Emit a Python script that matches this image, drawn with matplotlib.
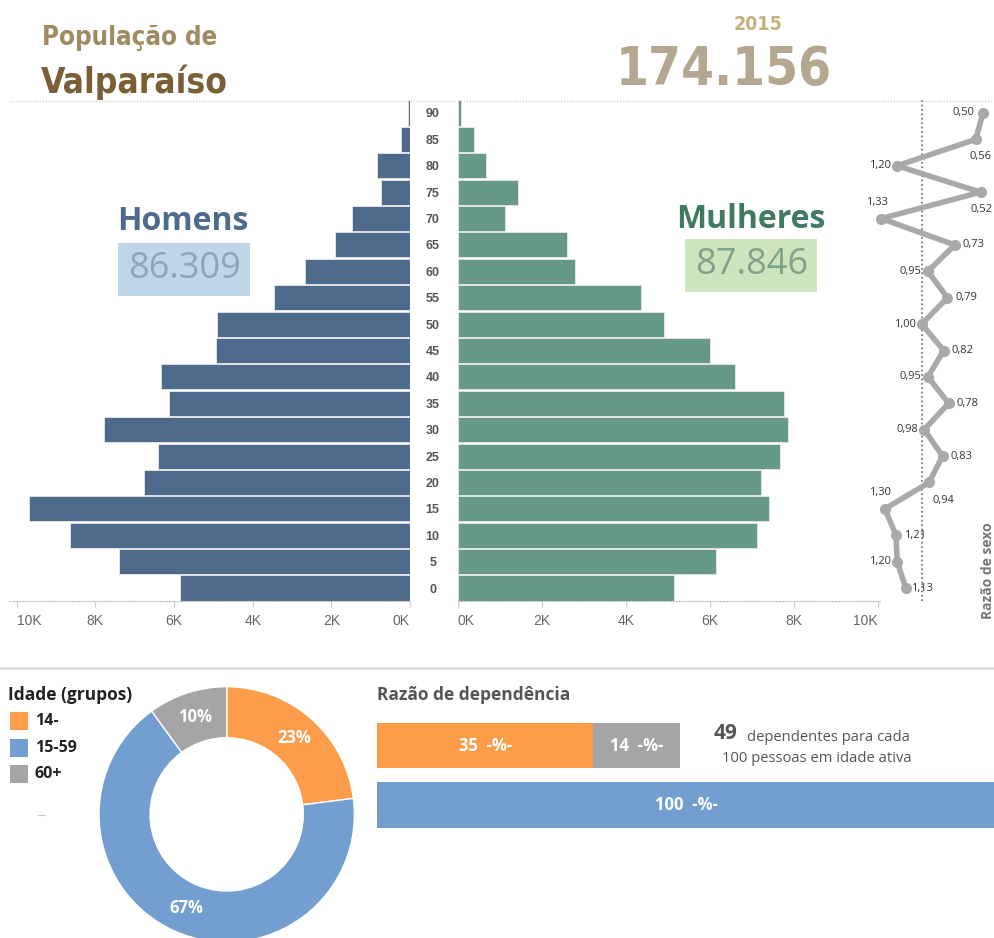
import matplotlib
matplotlib.use('Agg')
import matplotlib.pyplot as plt
from matplotlib.patches import Rectangle
from matplotlib.lines import Line2D

# idade (inicio do grupo), de baixo para cima
ages = [0, 5, 10, 15, 20, 25, 30, 35, 40, 45, 50, 55, 60, 65, 70, 75, 80, 85, 90]
men = [5855, 7405, 8645, 9690, 6770, 6395, 7780, 6125, 6330, 4945,
       4910, 3470, 2665, 1915, 1485, 745, 850, 240, 40]
women = [5157, 6158, 7136, 7422, 7231, 7667, 7858, 7763, 6603, 5998,
         4902, 4370, 2797, 2606, 1128, 1445, 682, 396, 80]
sex_ratio = [1.13, 1.20, 1.21, 1.30, 0.94, 0.83, 0.98, 0.78, 0.95, 0.82,
             1.00, 0.79, 0.95, 0.73, 1.33, 0.52, 1.20, 0.56, 0.50]

total_men = '86.309'
total_women = '87.846'
total_pop = '174.156'
year = '2015'

age_groups = ['14-', '15-59', '60+']
age_group_pct = [23, 67, 10]

dep_young = 35
dep_old = 14
dep_active = 100
dep_total = 49

tick_vals = [0, 2000, 4000, 6000, 8000, 10000]
tick_labels = ['0K', '2K', '4K', '6K', '8K', '10K']

C_MEN = '#4e6a8c'
C_WOMEN = '#669a86'
C_ORANGE = '#fd9d4b'
C_BLUE = '#729fcf'
C_GRAY = '#a5a5a5'

BODY = ['Open Sans', 'DejaVu Sans']
plt.rcParams['font.family'] = BODY
COND = dict(family='DejaVu Sans', fontstretch='condensed', fontweight='bold')

W, H = 995, 938
fig = plt.figure(figsize=(W / 100, H / 100), dpi=100)


def px_axes(x0, y0, x1, y1):
    return fig.add_axes([x0 / W, 1 - y1 / H, (x1 - x0) / W, (y1 - y0) / H])


def ftext(x, y, s, **kw):
    return fig.text(x / W, 1 - y / H, s, **kw)


# ---- titulo
ftext(42, 38, 'População de', fontsize=18.5, color='#a08a62', va='center', **COND)
ftext(41, 82, 'Valparaíso', fontsize=25.3, color='#7a5e36', va='center', **COND)
ftext(758, 24, year, fontsize=14, color='#c4b27c', ha='center', va='center', **COND)
ftext(724, 70, total_pop, fontsize=38, color='#b4a68f', ha='center', va='center',
      **COND)

fig.add_artist(Line2D([10 / W, 1], [1 - 101 / H] * 2, color='#c8c8c8',
                      lw=0.8, ls=':', transform=fig.transFigure))

# ---- piramide
y = list(range(len(ages)))
ylim = (-0.5, len(ages) - 0.5)

ax_m = px_axes(10, 99.8, 410, 601.2)
ax_m.barh(y, men, height=0.95, color=C_MEN, edgecolor='#e8e8e8', linewidth=0.6)
ax_m.set_xlim(10170, 0)

ax_w = px_axes(457.7, 99.8, 880, 601.2)
ax_w.barh(y, women, height=0.95, color=C_WOMEN, edgecolor='#e8e8e8', linewidth=0.6)
ax_w.set_xlim(0, 10055)

for ax in (ax_m, ax_w):
    ax.set_ylim(*ylim)
    for s in ('top', 'left', 'right'):
        ax.spines[s].set_visible(False)
    ax.spines['bottom'].set_linestyle(':')
    ax.spines['bottom'].set_color('#bbbbbb')
    ax.set_xticks(tick_vals)
    ax.set_xticklabels(tick_labels)
    ax.tick_params(axis='x', length=4, color='#cccccc', labelsize=10,
                   labelcolor='#666666', pad=5)
    for lab in ax.get_xticklabels():
        lab.set_family(['Liberation Sans', 'DejaVu Sans'])

ax_m.set_yticks([])
ax_m.get_xticklabels()[0].set_ha('right')
ax_m.get_xticklabels()[-1].set_ha('left')
ax_w.get_xticklabels()[0].set_ha('left')
ax_w.get_xticklabels()[-1].set_ha('right')

ax_w.set_yticks(y)
ax_w.set_yticklabels([str(a) for a in ages])
ax_w.tick_params(axis='y', length=0, pad=18, labelsize=9, labelcolor='#555555')
for lab in ax_w.get_yticklabels():
    lab.set_ha('center')
    lab.set_fontweight('bold')
    lab.set_family(['Liberation Sans', 'DejaVu Sans'])

# Homens / Mulheres
ftext(183, 222, 'Homens', fontsize=23, fontweight='bold', color=C_MEN,
      ha='center', va='center')
fig.add_artist(Rectangle((118 / W, 1 - 296 / H), 132 / W, 53 / H,
                         transform=fig.transFigure, color='#c0d6e6', lw=0))
ftext(185, 269, total_men, fontsize=26, color='#8ba6bf', ha='center', va='center')

ftext(751, 219, 'Mulheres', fontsize=23, fontweight='bold', color='#407a60',
      ha='center', va='center')
fig.add_artist(Rectangle((685 / W, 1 - 292 / H), 132 / W, 53 / H,
                         transform=fig.transFigure, color='#cde5bf', lw=0))
ftext(752, 265, total_women, fontsize=26, color='#80a28b', ha='center', va='center')

# ---- razao de sexo
ax_r = px_axes(875, 99.8, 995, 601.2)
ax_r.set_xlim(1.381, 0.402)
ax_r.set_ylim(*ylim)
ax_r.axis('off')
ax_r.axvline(1.0, color='#666666', ls=':', lw=1.2)
ax_r.plot(sex_ratio, y, color='#a9a9a9', lw=4, marker='o', ms=7,
          solid_capstyle='round', solid_joinstyle='round')

# deslocamento dos rotulos em pixels (dx, dy, ha)
label_offsets = [(5, 0, 'left'), (-6, 0, 'right'), (8, 0, 'left'),
                 (-5, 16, 'center'), (14, -18, 'center'), (8, 0, 'left'),
                 (-6, 0, 'right'), (8, 0, 'left'), (-6, 0, 'right'),
                 (8, 0, 'left'), (-6, 0, 'right'), (8, 0, 'left'),
                 (-6, 0, 'right'), (8, 0, 'left'), (-4, 16, 'center'),
                 (1, -17, 'center'), (-6, 0, 'right'), (5, -17, 'center'),
                 (-8, 0, 'right')]
for r, yy, (dx, dy, ha) in zip(sex_ratio, y, label_offsets):
    ax_r.annotate(f'{r:.2f}'.replace('.', ','), (r, yy),
                  xytext=(dx * 0.72, dy * 0.72), textcoords='offset points',
                  ha=ha, va='center', fontsize=8, color='#333333')

ftext(988, 571, 'Razão de sexo', rotation=90, fontsize=10, fontweight='bold',
      color='#777777', ha='center', va='center')

# separador
fig.add_artist(Line2D([0, 1], [1 - 668 / H] * 2, color='#dddddd', lw=2,
                      transform=fig.transFigure))

# ---- legenda idade
ftext(8, 695, 'Idade (grupos)', fontsize=12.5, fontweight='bold', color='#222222',
      va='center')
for i, (lab, col) in enumerate(zip(age_groups, [C_ORANGE, C_BLUE, C_GRAY])):
    yc = 721 + i * 26.5
    fig.add_artist(Rectangle((10 / W, 1 - (yc + 9) / H), 18 / W, 18 / H,
                             transform=fig.transFigure, color=col, lw=0))
    ftext(35, yc, lab, fontsize=11.5, fontweight='bold', color='#222222', va='center')
fig.add_artist(Line2D([38 / W, 45 / W], [1 - 815 / H] * 2, color='#cccccc',
                      lw=0.8, transform=fig.transFigure))

# ---- donut
ax_p = px_axes(99, 686.7, 354.4, 942.1)
ax_p.pie(age_group_pct, colors=[C_ORANGE, C_BLUE, C_GRAY], startangle=90,
         counterclock=False, radius=1,
         wedgeprops=dict(width=0.4, edgecolor='white', linewidth=1),
         autopct=lambda p: f'{p:.0f}%', pctdistance=0.8,
         textprops=dict(color='white', fontweight='bold', fontsize=12))
ax_p.set_xlim(-1, 1)
ax_p.set_ylim(-1, 1)
ax_p.set_aspect('equal')

# ---- razao de dependencia
ftext(377, 695, 'Razão de dependência', fontsize=12.5, fontweight='bold',
      color='#555555', va='center')
ax_d = px_axes(377, 715, 995, 835)
ax_d.barh([1], [dep_young], height=0.76, color=C_ORANGE)
ax_d.barh([1], [dep_old], left=[dep_young], height=0.76, color=C_GRAY)
ax_d.barh([0], [dep_active], height=0.77, color=C_BLUE)
ax_d.set_xlim(0, 100)
ax_d.set_ylim(-0.504, 1.513)
ax_d.axis('off')
for xc, yy, v in [(dep_young / 2, 1, dep_young),
                  (dep_young + dep_old / 2, 1, dep_old),
                  (dep_active / 2, 0, dep_active)]:
    ax_d.text(xc, yy, f'{v}  -%-', ha='center', va='center', color='white',
              fontsize=12, fontweight='bold')

ftext(714, 733, str(dep_total), fontsize=15, fontweight='bold', color='#555555',
      va='center')
ftext(747, 737, 'dependentes para cada', fontsize=10.6, color='#555555', va='center')
ftext(722, 758, '100 pessoas em idade ativa', fontsize=10.6, color='#555555',
      va='center')

fig.savefig('out.png', dpi=100)
